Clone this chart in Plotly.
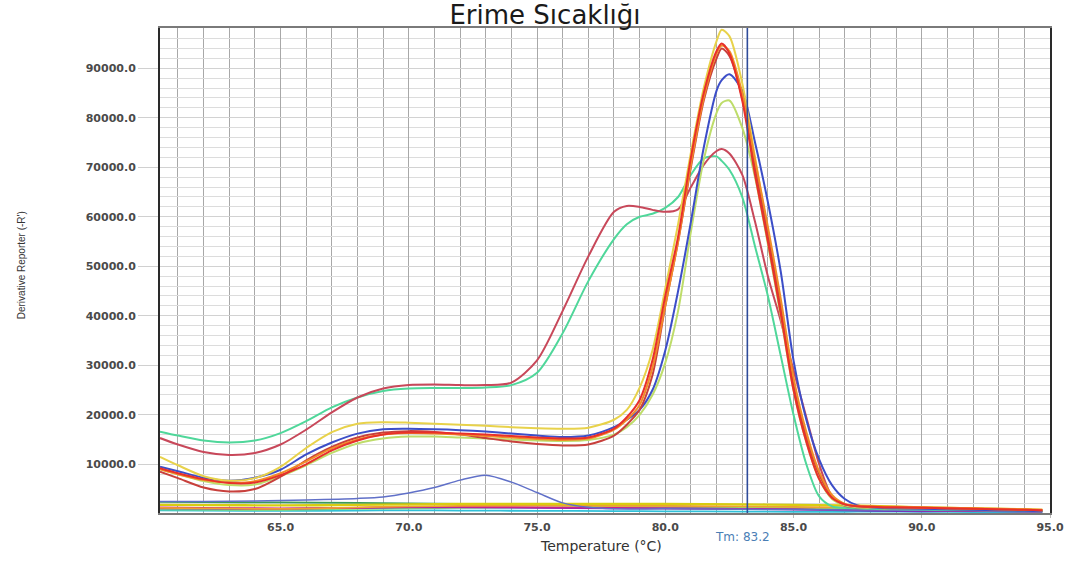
import plotly.graph_objects as go

# ---------------- data ----------------
temps = [60.3, 61, 62, 63, 64, 65, 66, 67, 68, 69,
         70, 71, 72, 73, 74, 75, 76, 77, 78, 78.5,
         79, 79.5, 80, 80.5, 81, 81.5, 82, 82.2, 82.5, 83,
         83.5, 84, 84.5, 85, 85.5, 86, 86.5, 87, 87.5, 88,
         89, 90, 91, 92, 93, 94, 94.7]

yellow_a = [11500, 9800, 7600, 6700, 7200, 9500, 13300, 16500, 18200, 18500,
            18400, 18200, 18000, 17800, 17500, 17300, 17200, 17400, 19000, 21000,
            25500, 33000, 45500, 58500, 73000, 86000, 95500, 97800, 96500, 87000,
            72000, 57000, 42000, 26500, 15500, 8000, 3500, 1900, 1500, 1400,
            1300, 1200, 1100, 1000, 900, 800, 700]
red_a = [9200, 8200, 7000, 6200, 6300, 7800, 10000, 12800, 14800, 16000,
         16400, 16400, 16200, 16000, 15700, 15400, 15200, 15400, 17200, 19500,
         23000, 31000, 44000, 56000, 72000, 85000, 93500, 95000, 93000, 83500,
         68500, 55000, 40500, 25000, 14500, 7000, 3200, 1900, 1500, 1400,
         1300, 1200, 1100, 1000, 900, 800, 700]
orange_a = [9000, 8000, 6800, 6300, 6600, 8200, 10600, 13200, 15000, 16000,
            16300, 16200, 16000, 15700, 15400, 15100, 14900, 15200, 17000, 19000,
            22000, 29500, 42000, 55000, 70500, 84000, 93000, 94600, 93500, 85000,
            71500, 58000, 43500, 27500, 16500, 8500, 3800, 2000, 1600, 1500,
            1400, 1300, 1200, 1100, 1000, 900, 800]
darkred_a = [8500, 7200, 5300, 4500, 5000, 7500, 10800, 13500, 15400, 16400,
             16700, 16500, 16000, 15300, 14600, 14100, 13800, 14000, 15800, 18000,
             21000, 28000, 42000, 55000, 70000, 83500, 92000, 94000, 92500, 84000,
             70000, 56500, 42000, 26000, 15500, 8000, 3500, 1900, 1500, 1400,
             1300, 1200, 1100, 1000, 900, 800, 700]
blue_a = [9500, 8600, 7300, 6700, 7300, 8900, 12000, 14400, 16200, 17100,
          17200, 17100, 16900, 16600, 16200, 15800, 15500, 15800, 17500, 19000,
          21000, 25000, 33000, 45000, 59000, 74000, 85500, 87600, 88800, 85500,
          75000, 63000, 49000, 31000, 19000, 11000, 5800, 3000, 1700, 1300,
          1100, 1000, 900, 800, 700, 600, 500]
lime_a = [9000, 8000, 6600, 5800, 5900, 7600, 9800, 12300, 14200, 15200,
          15600, 15600, 15400, 15200, 15000, 14800, 14700, 14900, 16000, 17500,
          20000, 24000, 30500, 41000, 57000, 71500, 81000, 83000, 83500, 78000,
          68000, 54500, 40000, 25000, 14500, 7000, 3000, 1700, 1300, 1200,
          1100, 1000, 1000, 900, 800, 700, 600]
rose_b = [15300, 14000, 12500, 11900, 12300, 14000, 17000, 20500, 23500, 25300,
          26000, 26100, 26000, 26000, 26500, 31000, 41000, 52000, 61000, 62200,
          62000, 61400, 61000, 61500, 66000, 70500, 73300, 73700, 72800, 68500,
          59000, 48000, 39000, 29000, 19500, 10000, 3500, 1600, 1300, 1200,
          1100, 1000, 950, 900, 850, 750, 650]
mint_b = [16600, 15800, 14800, 14400, 14800, 16300, 18700, 21500, 23500, 24800,
          25300, 25400, 25400, 25500, 26000, 28500, 36500, 47000, 55500, 58500,
          60000, 60600, 61800, 64000, 68500, 71800, 72200, 71300, 69500, 64000,
          54000, 44000, 32000, 20000, 10000, 3500, 1500, 1200, 1100, 1000,
          900, 850, 800, 750, 700, 600, 500]

temps_base = [60.3, 62, 65, 68, 70, 72, 75, 78, 80, 83, 85, 87, 88, 90, 92, 94.7]
teal_c = [2400, 2350, 2300, 2200, 2100, 2000, 1800, 1600, 1500, 1300, 1200, 1000, 900, 800, 700, 500]
yellow_c = [1800, 1750, 1700, 1800, 1900, 2000, 2000, 2000, 2000, 1900, 1800, 1700, 1600, 1300, 1100, 800]
purple_c = [1100, 1050, 1000, 1200, 1300, 1300, 1200, 1100, 1100, 1000, 900, 700, 600, 500, 550, 500]
magenta_c = [1300, 1200, 1100, 1200, 1400, 1400, 1300, 1200, 1100, 1000, 900, 800, 800, 700, 600, 450]
cyan_c = [700, 650, 600, 650, 700, 650, 600, 550, 500, 450, 400, 400, 450, 400, 350, 300]
lgreen_c = [900, 850, 800, 1000, 1100, 1200, 1300, 1400, 1400, 1300, 1200, 1000, 900, 800, 700, 550]
orange_c = [1200, 1100, 1000, 1300, 1500, 1600, 1700, 1600, 1600, 1500, 1400, 1300, 1200, 1100, 900, 700]

temps_bump = [60.3, 62, 64, 66, 68, 69, 70, 71, 72, 73, 74, 75, 76, 77, 78, 80, 83, 86, 90, 94.7]
bump_c = [2500, 2500, 2600, 2800, 3100, 3400, 4200, 5300, 6800, 7800, 6400, 4300, 2200, 1300, 1000, 1000, 900, 800, 700, 500]

tm_value = 83.2
x_tick_vals = [65, 70, 75, 80, 85, 90, 95]
y_tick_vals = [10000, 20000, 30000, 40000, 50000, 60000, 70000, 80000, 90000]

# ---------------- figure ----------------
fig = go.Figure()

series = [
    (temps_base, teal_c, "#3A9A5A", 1.8),
    (temps_base, cyan_c, "#30C0D8", 1.8),
    (temps_base, lgreen_c, "#8CE070", 1.8),
    (temps_base, purple_c, "#7030C0", 1.8),
    (temps_base, magenta_c, "#D0208C", 1.8),
    (temps_base, orange_c, "#F0A030", 1.8),
    (temps_base, yellow_c, "#D8CC10", 2.4),
    (temps_bump, bump_c, "#6070C8", 1.5),
    (temps, mint_b, "#4FD79A", 2.0),
    (temps, rose_b, "#C8485A", 2.0),
    (temps, lime_a, "#BEDD6A", 2.0),
    (temps, blue_a, "#3C4EC8", 2.0),
    (temps, yellow_a, "#E8D24A", 2.0),
    (temps, darkred_a, "#C8403C", 2.0),
    (temps, orange_a, "#F28C28", 2.0),
    (temps, red_a, "#E8302A", 2.0),
]
for xs, ys, col, w in series:
    fig.add_trace(go.Scatter(x=xs, y=ys, mode="lines",
                             line=dict(color=col, width=w, shape="spline", smoothing=0.8),
                             showlegend=False, hoverinfo="skip"))

fig.add_shape(type="line", xref="x", yref="paper", x0=tm_value, x1=tm_value, y0=0, y1=1,
              line=dict(color="#2E4C9A", width=1.6))

tick_font = dict(family="DejaVu Sans", size=11, color="#4a4a4a", weight="bold")

fig.update_layout(
    width=1076, height=561,
    margin=dict(l=160, r=18, t=28, b=48),
    paper_bgcolor="white", plot_bgcolor="white",
    title=dict(text="Erime Sıcaklığı", xref="container", x=545 / 1076, xanchor="center",
               yref="container", y=1 - 15 / 561, yanchor="middle",
               font=dict(family="DejaVu Sans", size=26, color="#1a1a1a")),
    xaxis=dict(range=[60.3, 95.0], tickvals=x_tick_vals,
               ticktext=[f"{v:.1f}" for v in x_tick_vals],
               tickfont=tick_font, showgrid=True, gridcolor="#a8a8a8", gridwidth=1,
               minor=dict(dtick=1, tick0=60, showgrid=True, gridcolor="#a8a8a8", gridwidth=1),
               ticks="outside", ticklen=3, tickcolor="#bbbbbb",
               showline=True, linecolor="#7a7a7a", linewidth=2, mirror=True, zeroline=False),
    yaxis=dict(range=[160, 98140], tickvals=y_tick_vals,
               ticktext=[f"{v:.1f}" for v in y_tick_vals],
               tickfont=tick_font, showgrid=True, gridcolor="#d2d2d2", gridwidth=1,
               minor=dict(dtick=2000, tick0=0, showgrid=True, gridcolor="#dcdcdc", gridwidth=1),
               ticks="outside", ticklen=20, tickcolor="#d0d0d0",
               showline=True, linecolor="#2a2a2a", linewidth=2, mirror=True, zeroline=False),
    annotations=[
        dict(text="Temperature (°C)", xref="paper", yref="paper", x=(605 - 160) / 898,
             y=(513 - 546) / 485, xanchor="center", yanchor="middle", showarrow=False,
             font=dict(family="DejaVu Sans", size=14, color="#333333")),
        dict(text="Derivative Reporter (-R')", xref="paper", yref="paper", x=(20 - 160) / 898,
             y=(513 - 265) / 485, xanchor="center", yanchor="middle", showarrow=False,
             textangle=-90, font=dict(family="Liberation Sans Narrow, Liberation Sans", size=10, color="#333333")),
        dict(text="Tm: 83.2", xref="x", yref="paper", x=83.03, y=(513 - 537) / 485,
             xanchor="center", yanchor="middle", showarrow=False,
             font=dict(family="DejaVu Sans", size=12, color="#4A7EB5")),
    ],
)

fig.write_html("out.html")
